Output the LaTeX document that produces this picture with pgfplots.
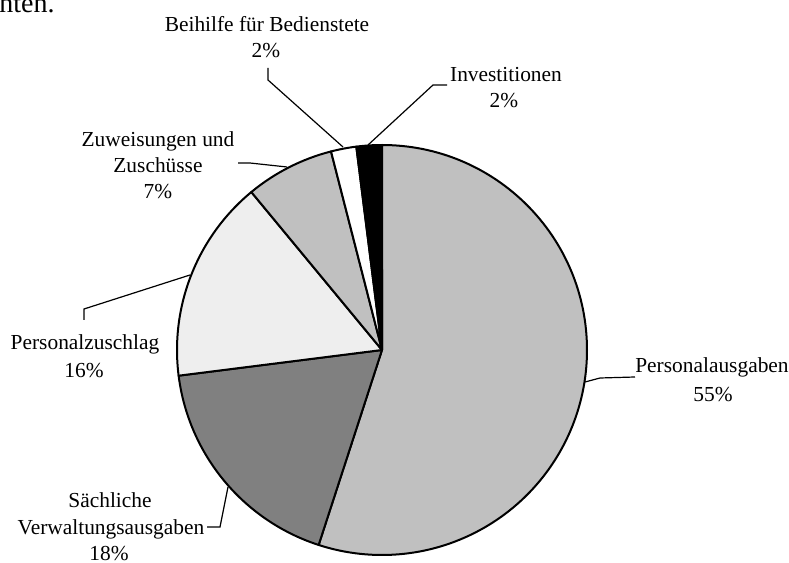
\documentclass[border=0pt]{standalone}
\usepackage{pgfplots}
\pgfplotsset{compat=1.18}
\usepackage{fontspec}
\setmainfont{Liberation Serif}
\definecolor{cPA}{HTML}{C0C0C0}
\definecolor{cSV}{HTML}{808080}
\definecolor{cPZ}{HTML}{EEEEEE}
\definecolor{cZZ}{HTML}{C0C0C0}
\definecolor{cBB}{HTML}{FFFFFF}
\definecolor{cIN}{HTML}{000000}
% #1 = cumulative share before slice (%), #2 = share (%), #3 = colour
\newcommand\pieslice[3]{%
  \filldraw[fill=#3,draw=black,line width=1pt,line join=round]
    (axis cs:382,213) -- (axis cs:{382+205*cos(90-3.6*#1)},{213+205*sin(90-3.6*#1)})
    arc[start angle={90-3.6*#1}, end angle={90-3.6*(#1+#2)}, radius=205] -- cycle;}
\newcommand\lbl[3]{\node[anchor=base,inner sep=0pt,font=\fontsize{10.7}{13}\selectfont] at (axis cs:#1,#2) {#3};}
\begin{document}
\begin{tikzpicture}
\begin{axis}[
  at={(0,0)}, anchor=origin,
  scale only axis, width=394.5pt, height=281.5pt,
  xmin=0, xmax=789, ymin=0, ymax=563,
  axis lines=none, clip=false]
% slices: Personalausgaben 55, Saechliche 18, Personalzuschlag 16, Zuweisungen 7, Beihilfe 2, Investitionen 2
\pieslice{0}{55}{cPA}
\pieslice{55}{18}{cSV}
\pieslice{73}{16}{cPZ}
\pieslice{89}{7}{cZZ}
\pieslice{96}{2}{cBB}
\pieslice{98}{2}{cIN}
% leader lines
\draw[line width=0.6pt] (axis cs:268,495) -- (axis cs:268,483) -- (axis cs:343,416);
\draw[line width=0.6pt] (axis cs:447,478) -- (axis cs:433,478) -- (axis cs:368,418);
\draw[line width=0.6pt] (axis cs:238,400) -- (axis cs:250,400) -- (axis cs:287,396);
\draw[line width=0.6pt] (axis cs:84,243) -- (axis cs:84,254) -- (axis cs:190,288);
\draw[line width=0.6pt] (axis cs:207,36) -- (axis cs:220,36) -- (axis cs:228,76);
\draw[line width=0.6pt] (axis cs:635,186) -- (axis cs:600,185) -- (axis cs:585,181);
% labels
\lbl{267}{531}{Beihilfe für Bedienstete}
\lbl{266}{505}{2\%}
\lbl{506}{481}{Investitionen}
\lbl{504}{455}{2\%}
\lbl{158}{416}{Zuweisungen und}
\lbl{158}{390}{Zuschüsse}
\lbl{158}{364}{7\%}
\lbl{85}{213}{Personalzuschlag}
\lbl{84}{185}{16\%}
\lbl{110}{55}{Sächliche}
\lbl{111}{28}{Verwaltungsausgaben}
\lbl{109}{2}{18\%}
\lbl{712}{190}{Personalausgaben}
\lbl{713}{161}{55\%}
\node[anchor=base west,inner sep=0pt,font=\fontsize{14}{16}\selectfont] at (axis cs:-1,550) {nten.};
\end{axis}
\pgfresetboundingbox
\path[use as bounding box] (0,0) rectangle (394.5pt,281.5pt);
\end{tikzpicture}
\end{document}
